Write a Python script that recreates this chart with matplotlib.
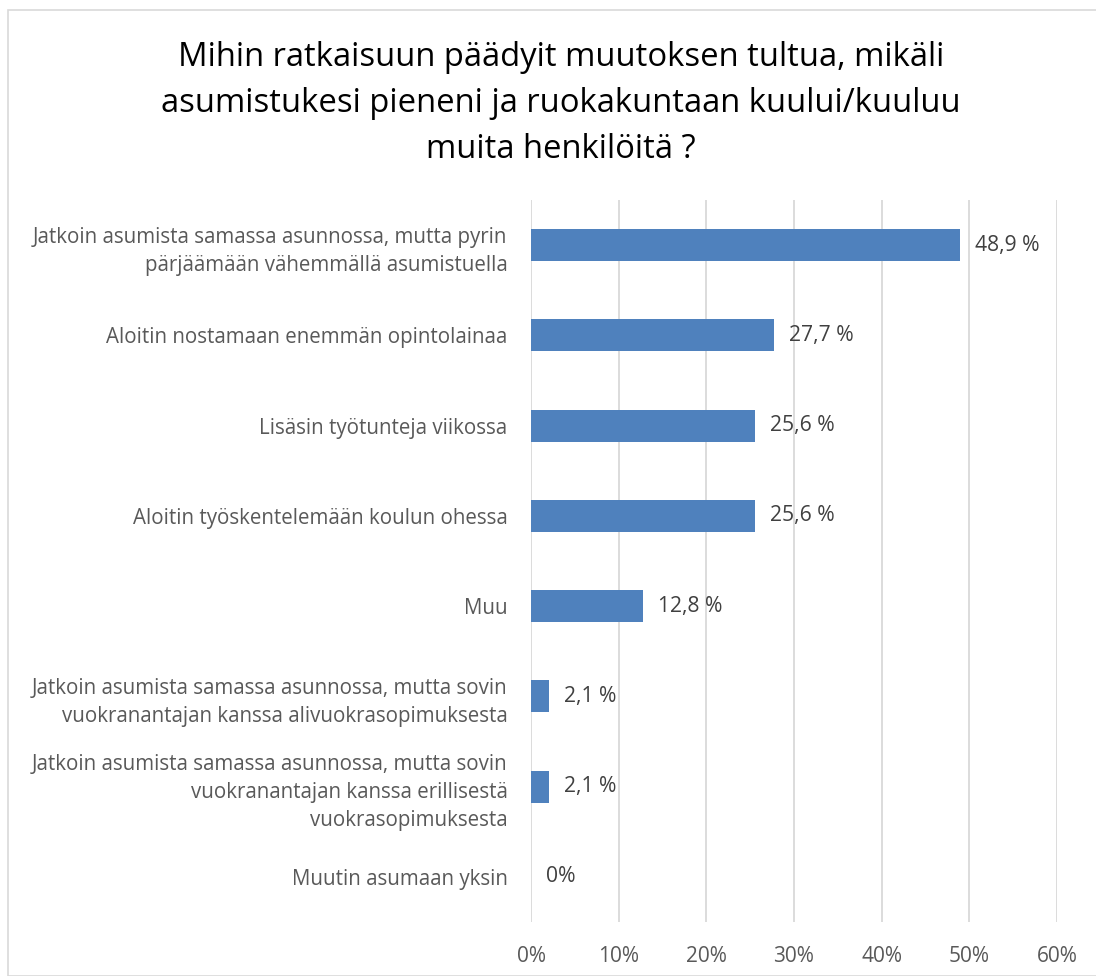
import matplotlib.pyplot as plt
from matplotlib.patches import Rectangle

plt.rcParams['font.family'] = ['Open Sans', 'DejaVu Sans']

# Data
categories = [
    "Jatkoin asumista samassa asunnossa, mutta pyrin\npärjäämään vähemmällä asumistuella",
    "Aloitin nostamaan enemmän opintolainaa",
    "Lisäsin työtunteja viikossa",
    "Aloitin työskentelemään koulun ohessa",
    "Muu",
    "Jatkoin asumista samassa asunnossa, mutta sovin\nvuokranantajan kanssa alivuokrasopimuksesta",
    "Jatkoin asumista samassa asunnossa, mutta sovin\nvuokranantajan kanssa erillisestä\nvuokrasopimuksesta",
    "Muutin asumaan yksin",
]
values = [48.9, 27.7, 25.6, 25.6, 12.8, 2.1, 2.1, 0.0]
value_labels = ["48,9 %", "27,7 %", "25,6 %", "25,6 %", "12,8 %", "2,1 %", "2,1 %", "0%"]
ticks = [0, 10, 20, 30, 40, 50, 60]
tick_labels = ["0%", "10%", "20%", "30%", "40%", "50%", "60%"]

W, H = 1096, 976
fig = plt.figure(figsize=(W / 100, H / 100), dpi=100)

# chart border
fig.patches.append(Rectangle((8 / W, 0), 1, 1 - 10 / H, transform=fig.transFigure,
                             fill=False, edgecolor='#D9D9D9', linewidth=1.2))

left, right, top, bottom = 531, 1057, 200, 922
ax = fig.add_axes([left / W, 1 - bottom / H, (right - left) / W, (bottom - top) / H])

y = list(range(len(categories)))
ax.barh(y, values, height=0.355, color='#4F81BD', zorder=3)
ax.set_ylim(len(categories) - 0.5, -0.5)
ax.set_xlim(0, 60)
ax.set_xticks(ticks)
ax.set_xticklabels(tick_labels, fontsize=15, color='#595959')
ax.set_yticks(y)
ax.set_yticklabels(categories, fontsize=14.8, color='#595959', linespacing=1.45)
ax.tick_params(axis='both', length=0)
ax.tick_params(axis='y', pad=17)
ax.tick_params(axis='x', pad=17)
ax.grid(axis='x', color='#D9D9D9', linewidth=1.3, zorder=0)
for s in ax.spines.values():
    s.set_visible(False)

for yi, v, lab in zip(y, values, value_labels):
    ax.annotate(lab, (v, yi), xytext=(15, 0), textcoords='offset pixels',
                va='center', ha='left', fontsize=15.2, color='#404040')

fig.text(0.5 + 13 / W, 1 - 104 / H, "Mihin ratkaisuun päädyit muutoksen tultua, mikäli\n"
         "asumistukesi pieneni ja ruokakuntaan kuului/kuuluu\nmuita henkilöitä ?",
         ha='center', va='center', fontsize=23.6, color='black', linespacing=1.52)

fig.savefig('out.png', dpi=100, facecolor='white')
